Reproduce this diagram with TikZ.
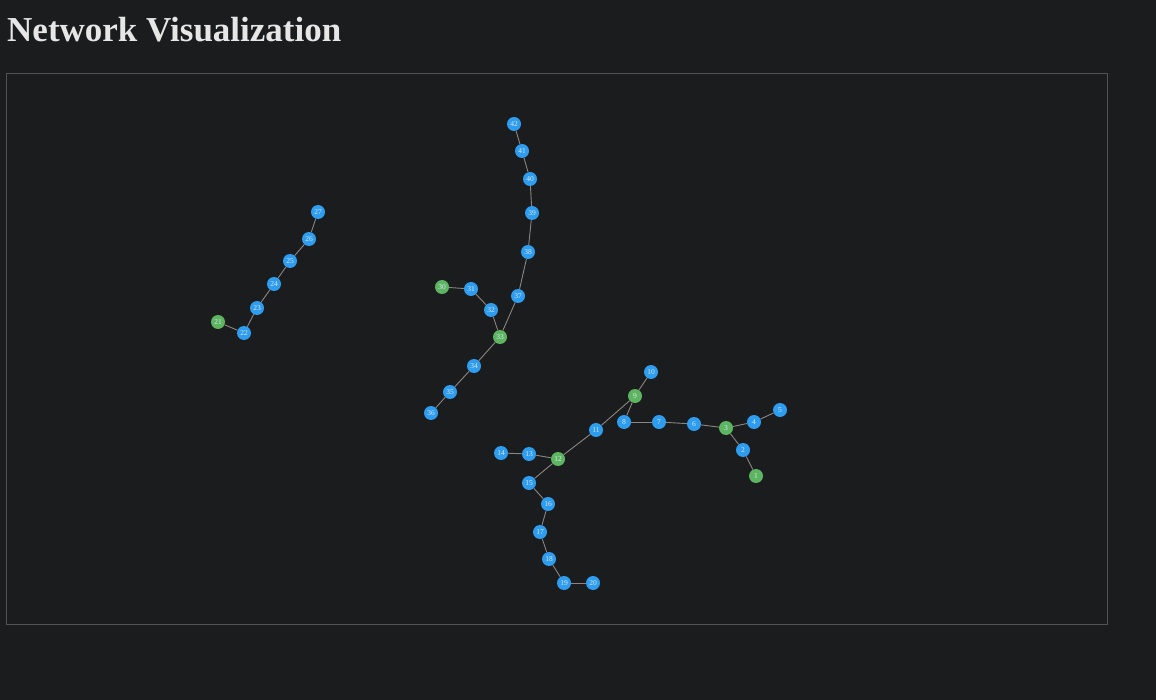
\documentclass[tikz,border=0pt]{standalone}
\usepackage{fontspec}
\setmainfont{Liberation Serif}
\usepackage{xcolor}
\definecolor{bg}{HTML}{1B1C1E}
\definecolor{frame}{HTML}{505254}
\definecolor{edgegray}{HTML}{8A8782}
\definecolor{nodeblue}{HTML}{2E9DF0}
\definecolor{nodegreen}{HTML}{5DB562}
\definecolor{titlegray}{HTML}{E6E6E6}
\definecolor{labelgray}{HTML}{D8E6F0}

\tikzset{
  vertex/.style={circle,fill=nodeblue,minimum size=14pt,inner sep=0pt,
    font=\fontsize{7.5}{7.5}\selectfont,text=labelgray},
  root/.style={vertex,fill=nodegreen},
  link/.style={draw=edgegray,line width=0.9pt}
}

\begin{document}
\begin{tikzpicture}[x=1pt,y=-1pt]
\fill[bg] (0,0) rectangle (1156,700);
\useasboundingbox (0,0) rectangle (1156,700);
\node[anchor=base west,text=titlegray,font=\fontsize{35}{35}\selectfont\bfseries,inner sep=0pt](title) at (7,42){Network Visualization};
\draw[frame,line width=0.8pt] (6.5,73.5) rectangle (1107.5,624.5);

% first tree
\node[root](1) at (756,476){1};
\node[vertex](2) at (743,450){2};
\node[root](3) at (726,428){3};
\node[vertex](4) at (754,422){4};
\node[vertex](5) at (780,410){5};
\node[vertex](6) at (694,424){6};
\node[vertex](7) at (659,422){7};
\node[vertex](8) at (624,422){8};
\node[root](9) at (635,396){9};
\node[vertex](10) at (651,372){10};
\node[vertex](11) at (596,430){11};
\node[root](12) at (558,459){12};
\node[vertex](13) at (529,454){13};
\node[vertex](14) at (501,453){14};
\node[vertex](15) at (529,483){15};
\node[vertex](16) at (548,504){16};
\node[vertex](17) at (540,532){17};
\node[vertex](18) at (549,559){18};
\node[vertex](19) at (564,583){19};
\node[vertex](20) at (593,583){20};

% second tree
\node[root](21) at (218,322){21};
\node[vertex](22) at (244,333){22};
\node[vertex](23) at (257,308){23};
\node[vertex](24) at (274,284){24};
\node[vertex](25) at (290,261){25};
\node[vertex](26) at (309,239){26};
\node[vertex](27) at (318,212){27};

% third tree
\node[root](30) at (442,287){30};
\node[vertex](31) at (471,289){31};
\node[vertex](32) at (491,310){32};
\node[root](33) at (500,337){33};
\node[vertex](34) at (474,366){34};
\node[vertex](35) at (450,392){35};
\node[vertex](36) at (431,413){36};
\node[vertex](37) at (518,296){37};
\node[vertex](38) at (528,252){38};
\node[vertex](39) at (532,213){39};
\node[vertex](40) at (530,179){40};
\node[vertex](41) at (522,151){41};
\node[vertex](42) at (514,124){42};

\foreach \a/\b in {1/2,2/3,3/4,4/5,3/6,6/7,7/8,8/9,9/10,9/11,11/12,12/13,13/14,12/15,15/16,16/17,17/18,18/19,19/20,
  21/22,22/23,23/24,24/25,25/26,26/27,
  30/31,31/32,32/33,33/34,34/35,35/36,33/37,37/38,38/39,39/40,40/41,41/42}
  \draw[link] (\a) -- (\b);
\end{tikzpicture}
\end{document}
